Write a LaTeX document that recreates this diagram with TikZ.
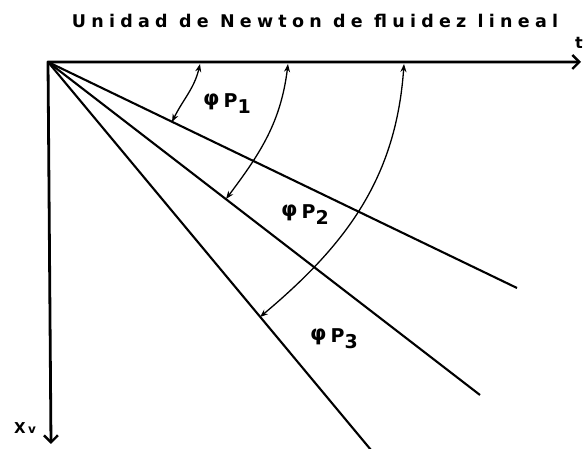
\documentclass[tikz,border=0pt]{standalone}
\usepackage{fontspec}
\setmainfont{DejaVu Sans}
\newfontfamily\ttlfont[LetterSpace=30]{DejaVu Sans Bold}
\newfontfamily\lblfont[LetterSpace=18]{DejaVu Sans Bold}
\newfontfamily\axfont[LetterSpace=20]{DejaVu Sans Bold}
\usetikzlibrary{arrows.meta}
\newcommand\lowsub[1]{\raisebox{-6pt}{#1}}
\newcommand\phisym{\raisebox{2pt}{\fontsize{21}{21}\selectfont φ}\hspace{4pt}}
\begin{document}
\begin{tikzpicture}[x=1pt,y=1pt,
  axis/.style={line width=2.8pt, line join=round,
    {Straight Barb[length=7pt,width=14pt,line width=2.4pt]}-{Straight Barb[length=7pt,width=14pt,line width=2.4pt]}},
  ray/.style={line width=2.1pt},
  ang/.style={line width=1.3pt, {Stealth[length=8pt,width=6pt]}-{Stealth[length=8pt,width=6pt]}},
  lbl/.style={inner sep=0pt, font=\lblfont\fontsize{19}{19}\selectfont}]
\useasboundingbox (0,0) rectangle (584,449);
% title
\node[inner sep=0pt, font=\ttlfont\fontsize{17.5}{17.5}\selectfont] (title) at (315,428) {Unidad de Newton de fluidez lineal};
% axes
\coordinate (O) at (48,387);
\coordinate (T) at (581,387);
\coordinate (X) at (51,5);
\draw[axis] (X) -- (O) -- (T);
\node[inner sep=0pt, font=\axfont\fontsize{16}{16}\selectfont] (tl) at (579,406) {t};
\node[inner sep=0pt, font=\axfont\fontsize{15}{15}\selectfont] (xl) at (25,21) {X\,\fontsize{12}{12}\selectfont v};
% rays
\coordinate (E1) at (517,161);
\coordinate (E2) at (480,54);
\coordinate (E3) at (371,-1);
\draw[ray] (O) -- (E1);
\draw[ray] (O) -- (E2);
\draw[ray] (O) -- (E3);
% angle arcs
\coordinate (A1a) at (200,385);
\coordinate (A1b) at (172,327);
\coordinate (A2a) at (288,385);
\coordinate (A2b) at (226,250);
\coordinate (A3a) at (404,385);
\coordinate (A3b) at (260,132);
\draw[ang] (A1a) to[out=-103,in=64] (A1b);
\draw[ang] (A2a) to[out=-97,in=53] (A2b);
\draw[ang] (A3a) to[out=-94,in=40] (A3b);
% labels
\node[lbl] (p1) at (227,345) {\phisym P\lowsub{1}};
\node[lbl] (p2) at (305,234) {\phisym P\lowsub{2}};
\node[lbl] (p3) at (334,110) {\phisym P\lowsub{3}};
\end{tikzpicture}
\end{document}
